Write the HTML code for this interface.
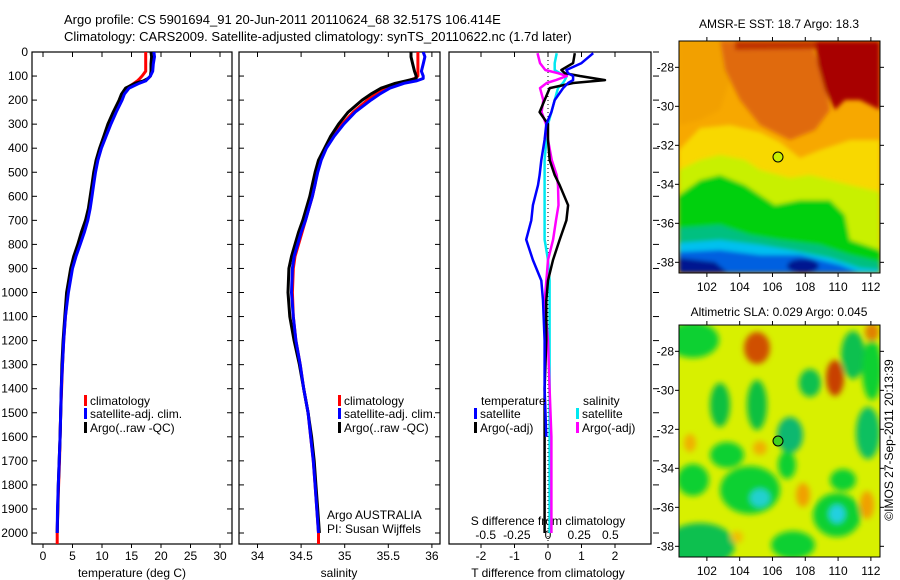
<!DOCTYPE html>
<html><head><meta charset="utf-8">
<style>
html,body{margin:0;padding:0;background:#fff;}
svg{display:block;font-family:"Liberation Sans",sans-serif;}
</style></head>
<body>
<svg id="chart" width="900" height="580" viewBox="0 0 900 580" xmlns="http://www.w3.org/2000/svg">
<defs>
<filter id="bl" x="-20%" y="-20%" width="140%" height="140%"><feGaussianBlur stdDeviation="2"/></filter>
<filter id="bl2" x="-50%" y="-50%" width="200%" height="200%"><feGaussianBlur stdDeviation="3"/></filter>
<clipPath id="clipTop"><rect x="679" y="41" width="201" height="232"/></clipPath>
<clipPath id="clipBot"><rect x="679" y="325" width="201" height="232"/></clipPath>
<clipPath id="cp1"><rect x="32" y="52" width="200" height="492"/></clipPath>
<clipPath id="cp2"><rect x="239" y="52" width="201" height="492"/></clipPath>
<clipPath id="cp3"><rect x="449" y="52" width="202" height="492"/></clipPath>
</defs>
<text x="64" y="24" font-size="13">Argo profile: CS 5901694_91 20-Jun-2011 20110624_68 32.517S 106.414E</text>
<text x="64" y="41" font-size="13">Climatology: CARS2009. Satellite-adjusted climatology: synTS_20110622.nc (1.7d later)</text>
<g id="plots"></g>

<!-- top map -->
<g>
<text x="779" y="28" font-size="12" text-anchor="middle">AMSR-E SST: 18.7 Argo: 18.3</text>
<g clip-path="url(#clipTop)">
<rect x="679" y="41" width="201" height="232" fill="#f7a800"/>
<g filter="url(#bl)">
<polygon points="679,41 720,41 730,80 720,110 700,120 679,125" fill="#f2a000"/>
<polygon points="720,41 810,41 825,80 830,110 815,130 790,140 760,125 740,100 725,70" fill="#e06a10"/>
<polygon points="735,41 880,41 880,48 735,50" fill="#c03000"/>
<polygon points="815,41 880,41 880,110 860,100 845,100 835,110 825,90 818,65" fill="#a80000"/>
<polygon points="679,150 700,128 730,125 760,132 780,142 800,158 820,150 850,140 880,140 880,273 679,273" fill="#f8d800"/>
<polygon points="679,170 700,160 720,155 745,160 760,170 790,178 810,175 850,185 880,192 880,273 679,273" fill="#c8f000"/>
<polygon points="679,195 700,180 720,175 745,185 760,195 775,205 800,200 830,200 845,215 850,240 880,250 880,273 679,273" fill="#00d010"/>
<polygon points="679,228 720,225 750,235 780,240 820,245 850,255 880,262 880,273 679,273" fill="#00c080"/>
<polygon points="679,243 720,240 760,245 790,250 830,258 860,268 880,270 880,273 679,273" fill="#00c0f0"/>
<polygon points="679,252 720,250 760,255 800,255 840,265 860,273 679,273" fill="#0060e0"/>
<polygon points="679,258 715,262 728,273 679,273" fill="#001890"/>
<ellipse cx="803" cy="266" rx="16" ry="7" fill="#001890"/>
</g>
</g>
<rect x="679" y="41" width="201" height="232" fill="none" stroke="#000" stroke-width="1"/>
<circle cx="778" cy="157" r="5" fill="#c8f000" stroke="#000" stroke-width="1"/>
<g id="topMapAxes"></g>
</g>

<!-- bottom map -->
<g>
<text x="779" y="316" font-size="12" text-anchor="middle">Altimetric SLA: 0.029 Argo: 0.045</text>
<g clip-path="url(#clipBot)">
<rect x="679" y="325" width="201" height="232" fill="#d8f000"/>
<g filter="url(#bl2)">
<ellipse cx="693" cy="340" rx="26" ry="18" fill="#10d030"/>
<ellipse cx="853" cy="355" rx="12" ry="24" fill="#10c050"/>
<ellipse cx="872" cy="370" rx="10" ry="30" fill="#10d030"/>
<ellipse cx="810" cy="383" rx="11" ry="14" fill="#10c050"/>
<ellipse cx="720" cy="405" rx="10" ry="22" fill="#10c040"/>
<ellipse cx="757" cy="405" rx="10" ry="25" fill="#10c040"/>
<ellipse cx="790" cy="435" rx="13" ry="18" fill="#10b870"/>
<ellipse cx="727" cy="455" rx="17" ry="13" fill="#10d030"/>
<ellipse cx="868" cy="433" rx="12" ry="26" fill="#10c060"/>
<ellipse cx="787" cy="465" rx="9" ry="14" fill="#10d030"/>
<ellipse cx="843" cy="480" rx="13" ry="11" fill="#10d030"/>
<ellipse cx="750" cy="490" rx="30" ry="24" fill="#10d030"/>
<ellipse cx="760" cy="498" rx="10" ry="9" fill="#20d0d0"/>
<ellipse cx="837" cy="515" rx="24" ry="22" fill="#10d030"/>
<ellipse cx="837" cy="514" rx="8" ry="9" fill="#20d0e0"/>
<ellipse cx="693" cy="480" rx="16" ry="16" fill="#10d030"/>
<ellipse cx="700" cy="545" rx="35" ry="22" fill="#10c050"/>
<ellipse cx="793" cy="545" rx="22" ry="14" fill="#10d030"/>
<ellipse cx="757" cy="348" rx="13" ry="16" fill="#d05000"/>
<ellipse cx="835" cy="378" rx="9" ry="18" fill="#c84000"/>
<ellipse cx="872" cy="332" rx="7" ry="9" fill="#e08000"/>
<ellipse cx="760" cy="448" rx="7" ry="7" fill="#f0b000"/>
<ellipse cx="690" cy="443" rx="6" ry="9" fill="#f0b000"/>
<ellipse cx="803" cy="495" rx="7" ry="12" fill="#f0a000"/>
<ellipse cx="867" cy="505" rx="7" ry="14" fill="#f0a000"/>
<ellipse cx="737" cy="537" rx="6" ry="6" fill="#f0c000"/>
</g>
</g>
<rect x="679" y="325" width="201" height="232" fill="none" stroke="#000" stroke-width="1"/>
<circle cx="778" cy="441" r="5" fill="#40d020" stroke="#000" stroke-width="1"/>
<g id="botMapAxes"></g>
</g>
<text x="0" y="0" font-size="12" transform="translate(893,440) rotate(-90)" text-anchor="middle">©IMOS 27-Sep-2011 20:13:39</text>
</svg>
<script>
// ---- data ----
const depthT = [0,20,50,80,100,110,120,130,150,175,200,250,300,350,400,450,500,550,600,650,700,750,800,850,900,1000,1100,1200,1300,1400,1500,1600,1700,1800,1900,2000,2050];
const climTemp = [17.4,17.4,17.4,17.4,16.8,16.4,16.0,15.4,14.2,13.6,13.2,12.2,11.3,10.5,9.8,9.2,8.8,8.5,8.2,7.9,7.5,6.9,6.2,5.5,4.9,4.2,3.8,3.5,3.3,3.15,3.0,2.9,2.8,2.65,2.5,2.4,2.4];
const argoTemp = [18.3,18.4,18.3,18.3,18.2,17.8,17.0,15.6,14.0,13.3,12.9,11.9,11.0,10.3,9.6,9.0,8.6,8.3,8.0,7.7,7.2,6.5,5.9,5.2,4.7,4.0,3.7,3.4,3.2,3.1,3.0,2.9,2.75,2.6,2.5,2.4,null];
const satTemp = [18.8,18.9,18.7,18.6,18.2,17.8,17.4,16.3,14.6,13.8,13.4,12.4,11.5,10.7,9.9,9.3,8.9,8.6,8.3,8.0,7.6,7.0,6.3,5.6,5.0,4.3,3.8,3.5,3.3,3.1,3.0,2.9,2.75,2.6,2.45,2.4,null];
const climSal = [35.84,35.84,35.84,35.84,35.84,35.8,35.72,35.62,35.48,35.36,35.26,35.1,34.97,34.86,34.78,34.72,34.68,34.66,34.63,34.59,34.55,34.51,34.47,34.43,34.41,34.4,34.41,34.44,34.49,34.53,34.58,34.61,34.64,34.66,34.68,34.7,34.7];
const argoSal = [35.76,35.76,35.78,35.8,35.82,35.82,35.7,35.58,35.42,35.3,35.2,35.04,34.93,34.84,34.77,34.7,34.66,34.63,34.6,34.56,34.52,34.47,34.43,34.39,34.36,34.35,34.37,34.42,34.48,34.53,34.58,34.62,34.65,34.67,34.69,34.71,null];
const satSal = [35.9,35.92,35.9,35.88,35.9,35.9,35.82,35.68,35.52,35.4,35.3,35.12,34.99,34.88,34.79,34.73,34.69,34.66,34.63,34.59,34.55,34.5,34.46,34.42,34.4,34.39,34.41,34.44,34.49,34.53,34.58,34.61,34.64,34.66,34.68,34.7,null];
const depthD = [5,46,75,88,100,117,129,150,200,250,300,365,450,512,554,637,700,780,865,950,1033,1200,1400,1600,1800,2000];
const argoTdiff = [0.8,0.75,0.4,0.5,0.95,1.7,0.75,0.05,-0.1,-0.25,0,0,0.05,0.2,0.35,0.6,0.55,0.35,0.15,0,-0.05,-0.05,-0.1,-0.1,-0.1,-0.1];
const satTdiff = [1.35,1.0,0.55,0.6,0.75,0.75,0.6,0.45,0.2,0.1,-0.05,-0.1,-0.2,-0.25,-0.3,-0.45,-0.5,-0.65,-0.45,-0.2,-0.15,-0.1,-0.1,-0.05,null,null];
const argoSdiff = [-0.078,-0.06,-0.02,0.075,0.14,0.06,-0.01,-0.06,-0.035,-0.048,-0.015,0,0.028,0.065,0.075,0.078,0.06,0.038,0,-0.012,-0.025,0,0.012,0.025,0.025,0.025];
const satSdiff = [0.065,0.05,0.05,0.088,0.14,0.125,0.112,0.075,0.05,0.025,0,-0.012,-0.025,-0.025,-0.025,-0.025,-0.025,-0.025,0,0.012,0.012,0.012,0.012,0.012,0.012,0.012];
const depthTicks = [0,100,200,300,400,500,600,700,800,900,1000,1100,1200,1300,1400,1500,1600,1700,1800,1900,2000];
const tempTicks = [0,5,10,15,20,25,30];
const salTicks = [34,34.5,35,35.5,36];
const tdiffTicks = [-2,-1,0,1,2];
const sdiffTicks = [-0.5,-0.25,0,0.25,0.5];
const latTicks = [-28,-30,-32,-34,-36,-38];
const lonTicks = [102,104,106,108,110,112];

const NS = 'http://www.w3.org/2000/svg';
const root = document.getElementById('plots');
function mk(tag, attrs, parent){ const e=document.createElementNS(NS,tag); for(const k in attrs) e.setAttribute(k,attrs[k]); (parent||root).appendChild(e); return e; }
const yD = d => 52 + d*0.2405;
const xT = t => 43 + t*5.9;
const xS = s => 257.5 + (s-34)*87.2;
const xTd = v => 548 + v*33.5;
const xSd = v => 548 + v*4*33.5;
const PT=52, PB=544;

function panel(x0,x1,name){
  const r = mk('rect',{x:x0,y:PT,width:x1-x0,height:PB-PT,fill:'none',stroke:'#000','stroke-width':1.2});
  
  
}
function line(xs, ys, xf, color, w, clip, name){
  let d=''; let pen=false;
  for(let i=0;i<xs.length;i++){
    if(xs[i]===null){pen=false;continue;}
    d += (pen?'L':'M') + xf(xs[i]).toFixed(1)+','+yD(ys[i]).toFixed(1)+' ';
    pen=true;
  }
  const p = mk('path',{d:d,fill:'none',stroke:color,'stroke-width':w,'stroke-linejoin':'round','clip-path':'url(#'+clip+')'});
  
  
}
function txt(x,y,s,anchor,size,name){
  const t = mk('text',{x:x,y:y,'font-size':size||12,'text-anchor':anchor||'start'});
  t.textContent = s;
  
  
  return t;
}
function xTicks(vals, f, labelY, name){
  vals.forEach(v=>{
    const x=f(v);
    mk('line',{x1:x,y1:PT,x2:x,y2:PT+5,stroke:'#000'});
    mk('line',{x1:x,y1:PB,x2:x,y2:PB+4,stroke:'#000'});
    if(labelY) txt(x,labelY,String(v),'middle',12,name);
  });
}

panel(32,232,'temperature-panel');
panel(239,440,'salinity-panel');
panel(449,651,'difference-panel');

depthTicks.forEach(d=>{
  const y=yD(d);
  mk('line',{x1:32,y1:y,x2:37,y2:y,stroke:'#000'});
  mk('line',{x1:227,y1:y,x2:232,y2:y,stroke:'#000'});
  mk('line',{x1:239,y1:y,x2:244,y2:y,stroke:'#000'});
  mk('line',{x1:435,y1:y,x2:440,y2:y,stroke:'#000'});
  mk('line',{x1:653,y1:y,x2:659,y2:y,stroke:'#000'});
  txt(28,y+4,String(d),'end',12,'depth-tick-label');
});

xTicks(tempTicks, xT, 560, 'temp-tick-label');
xTicks(salTicks, xS, 560, 'salinity-tick-label');
xTicks(tdiffTicks, xTd, 560, 'tdiff-tick-label');
sdiffTicks.forEach(v=>{ txt(xSd(v)*0.93+548*0.07,539,String(v),'middle',12,'sdiff-tick-label'); });

txt(132,577,'temperature (deg C)','middle',12,'x-axis-title-temperature');
txt(339,577,'salinity','middle',12,'x-axis-title-salinity');
txt(548,577,'T difference from climatology','middle',12,'x-axis-title-tdiff');
txt(548,525,'S difference from climatology','middle',12,'x-axis-title-sdiff');

line(climTemp, depthT, xT, '#ff0000', 3, 'cp1', 'temp-climatology-line');
line(argoTemp, depthT, xT, '#000000', 3, 'cp1', 'temp-argo-line');
line(satTemp, depthT, xT, '#0000ff', 3, 'cp1', 'temp-satellite-line');
line(climSal, depthT, xS, '#ff0000', 3, 'cp2', 'salinity-climatology-line');
line(argoSal, depthT, xS, '#000000', 3, 'cp2', 'salinity-argo-line');
line(satSal, depthT, xS, '#0000ff', 3, 'cp2', 'salinity-satellite-line');

const z = mk('line',{x1:548,y1:PT,x2:548,y2:PB,stroke:'#000','stroke-dasharray':'1,3'});


line(satSdiff, depthD, xSd, '#00e8f0', 2.5, 'cp3', 'sdiff-satellite-line');
line(argoSdiff, depthD, xSd, '#ff00ff', 2.5, 'cp3', 'sdiff-argo-line');
line(argoTdiff, depthD, xTd, '#000000', 2.5, 'cp3', 'tdiff-argo-line');
line(satTdiff, depthD, xTd, '#0000ff', 2.5, 'cp3', 'tdiff-satellite-line');

function legItem(x,y,color,label,name){
  const r = mk('rect',{x:x,y:y-10,width:3,height:11,fill:color});
  
  
  txt(x+6,y,label,'start',12,name);
}
legItem(84,405,'#ff0000','climatology','legend-climatology');
legItem(84,418,'#0000ff','satellite-adj. clim.','legend-satellite');
legItem(84,432,'#000000','Argo(..raw -QC)','legend-argo');
legItem(338,405,'#ff0000','climatology','legend-climatology-sal');
legItem(338,418,'#0000ff','satellite-adj. clim.','legend-satellite-sal');
legItem(338,432,'#000000','Argo(..raw -QC)','legend-argo-sal');
txt(481,405,'temperature','start',12,'legend-temperature-heading');
legItem(474,418,'#0000ff','satellite','legend-tdiff-satellite');
legItem(474,432,'#000000','Argo(-adj)','legend-tdiff-argo');
txt(583,405,'salinity','start',12,'legend-salinity-heading');
legItem(576,418,'#00e8f0','satellite','legend-sdiff-satellite');
legItem(576,432,'#ff00ff','Argo(-adj)','legend-sdiff-argo');
txt(327,519,'Argo AUSTRALIA','start',12,'float-program-label');
txt(327,533,'PI: Susan Wijffels','start',12,'float-pi-label');

function mapAxes(top, gid, pfx){
  const g = document.getElementById(gid);
  latTicks.forEach(l=>{
    const y = top + (-26.65 - l)*19.5;
    mk('line',{x1:679,y1:y,x2:675,y2:y,stroke:'#000'},g);
    mk('line',{x1:880,y1:y,x2:884,y2:y,stroke:'#000'},g);
    const t = mk('text',{x:674,y:y+4,'font-size':12,'text-anchor':'end'},g);
    t.textContent = String(l);
    
    
  });
  lonTicks.forEach(l=>{
    const x = 679 + (l-100.3)*16.4;
    mk('line',{x1:x,y1:top+232,x2:x,y2:top+236,stroke:'#000'},g);
    mk('line',{x1:x,y1:top,x2:x,y2:top-4,stroke:'#000'},g);
    const t = mk('text',{x:x,y:top+250,'font-size':12,'text-anchor':'middle'},g);
    t.textContent = String(l);
    
    
  });
}
mapAxes(41,'topMapAxes','sst-map');
mapAxes(325,'botMapAxes','sla-map');
</script>
</body></html>
